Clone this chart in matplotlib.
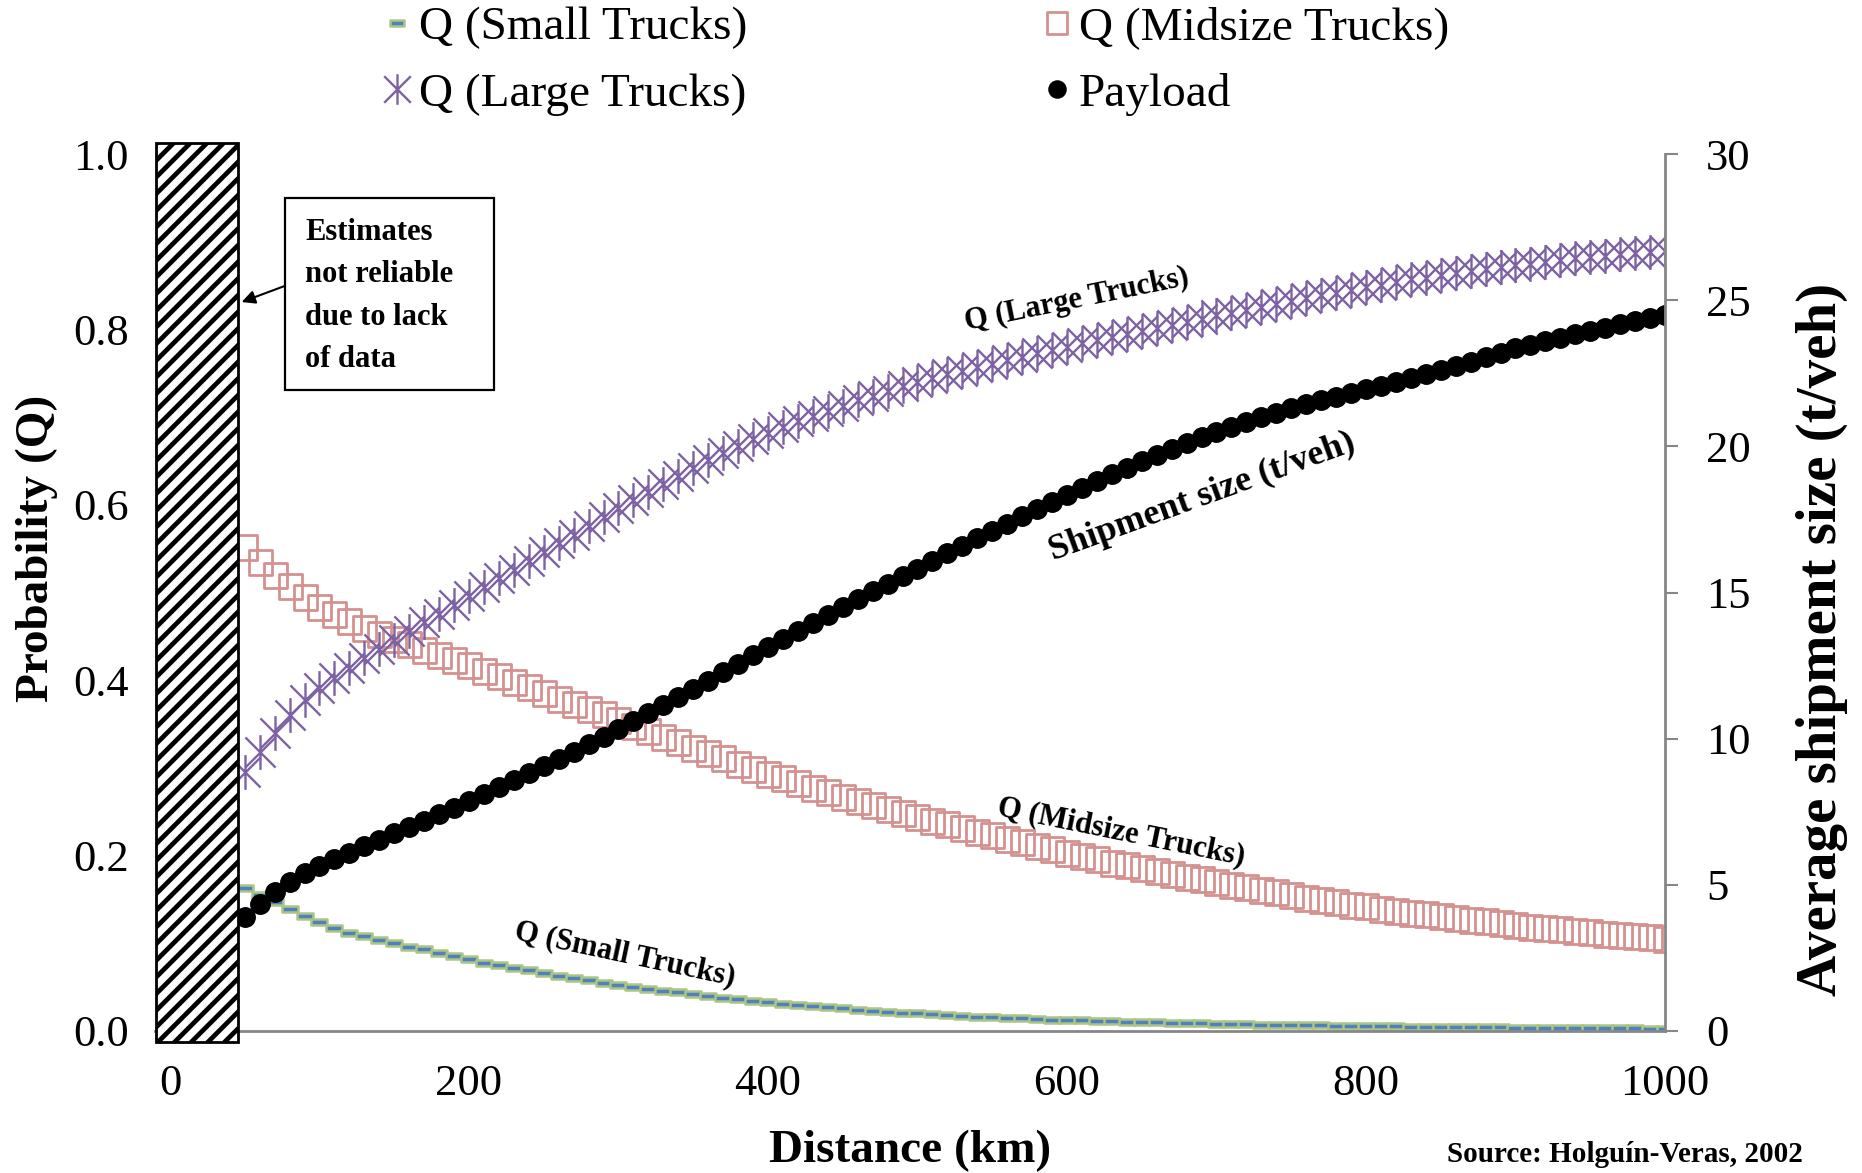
import matplotlib
matplotlib.use("Agg")
import matplotlib.pyplot as plt
from matplotlib.path import Path
from matplotlib.patches import Rectangle

# ---------------- data ----------------
distance_km = list(range(50, 1001, 10))

q_small = [
    0.163, 0.155, 0.147, 0.139, 0.131, 0.124, 0.118, 0.112, 0.108, 0.104,
    0.100, 0.096, 0.093, 0.089, 0.085, 0.082, 0.078, 0.075, 0.072, 0.069,
    0.066, 0.063, 0.060, 0.058, 0.055, 0.053, 0.050, 0.048, 0.046, 0.044,
    0.042, 0.040, 0.038, 0.036, 0.034, 0.033, 0.031, 0.030, 0.028, 0.027,
    0.026, 0.024, 0.023, 0.022, 0.021, 0.020, 0.019, 0.018, 0.017, 0.0165,
    0.016, 0.015, 0.0145, 0.014, 0.013, 0.0125, 0.012, 0.0115, 0.011, 0.0105,
    0.010, 0.0097, 0.0093, 0.009, 0.0086, 0.0083, 0.008, 0.0077, 0.0074, 0.0071,
    0.0068, 0.0065, 0.0063, 0.006, 0.0058, 0.0056, 0.0054, 0.0052, 0.005, 0.0048,
    0.0046, 0.0044, 0.0043, 0.0041, 0.004, 0.0038, 0.0037, 0.0036, 0.0034, 0.0033,
    0.0032, 0.0031, 0.003, 0.0029, 0.0028, 0.0027,
]

q_midsize = [
    0.552, 0.535, 0.520, 0.507, 0.495, 0.484, 0.475, 0.467, 0.460, 0.453,
    0.447, 0.441, 0.435, 0.429, 0.423, 0.417, 0.411, 0.405, 0.398, 0.392,
    0.385, 0.379, 0.373, 0.367, 0.361, 0.355, 0.348, 0.342, 0.335, 0.329,
    0.323, 0.317, 0.311, 0.305, 0.299, 0.293, 0.288, 0.283, 0.277, 0.272,
    0.267, 0.262, 0.258, 0.253, 0.249, 0.244, 0.240, 0.236, 0.231, 0.227,
    0.223, 0.219, 0.215, 0.211, 0.207, 0.203, 0.199, 0.196, 0.192, 0.189,
    0.186, 0.183, 0.179, 0.176, 0.173, 0.170, 0.167, 0.164, 0.161, 0.158,
    0.155, 0.152, 0.149, 0.147, 0.144, 0.142, 0.139, 0.137, 0.135, 0.133,
    0.131, 0.129, 0.127, 0.125, 0.123, 0.121, 0.119, 0.118, 0.116, 0.114,
    0.113, 0.111, 0.110, 0.108, 0.107, 0.105,
]

q_large = [
    0.295, 0.318, 0.340, 0.360, 0.377, 0.391, 0.403, 0.414, 0.425, 0.436,
    0.446, 0.456, 0.466, 0.476, 0.486, 0.496, 0.506, 0.516, 0.526, 0.536,
    0.546, 0.556, 0.566, 0.576, 0.586, 0.596, 0.606, 0.615, 0.624, 0.633,
    0.642, 0.651, 0.659, 0.667, 0.675, 0.682, 0.689, 0.695, 0.701, 0.707,
    0.713, 0.719, 0.724, 0.730, 0.735, 0.740, 0.745, 0.749, 0.753, 0.757,
    0.761, 0.765, 0.769, 0.773, 0.777, 0.780, 0.784, 0.788, 0.791, 0.795,
    0.798, 0.802, 0.805, 0.809, 0.812, 0.816, 0.819, 0.822, 0.826, 0.829,
    0.832, 0.836, 0.839, 0.842, 0.845, 0.848, 0.851, 0.854, 0.857, 0.859,
    0.862, 0.864, 0.867, 0.869, 0.871, 0.873, 0.875, 0.877, 0.879, 0.881,
    0.883, 0.884, 0.886, 0.887, 0.888, 0.889,
]

payload_t = [
    3.90, 4.35, 4.75, 5.10, 5.40, 5.65, 5.88, 6.10, 6.32, 6.54,
    6.76, 6.98, 7.20, 7.42, 7.64, 7.87, 8.10, 8.33, 8.57, 8.81,
    9.05, 9.30, 9.55, 9.81, 10.07, 10.33, 10.60, 10.87, 11.14, 11.42,
    11.70, 11.98, 12.27, 12.56, 12.85, 13.14, 13.42, 13.70, 13.97, 14.24,
    14.51, 14.78, 15.04, 15.30, 15.56, 15.82, 16.08, 16.34, 16.60, 16.86,
    17.11, 17.36, 17.61, 17.86, 18.10, 18.34, 18.58, 18.81, 19.04, 19.27,
    19.49, 19.71, 19.92, 20.13, 20.33, 20.50, 20.67, 20.83, 20.99, 21.15,
    21.30, 21.44, 21.57, 21.70, 21.83, 21.95, 22.08, 22.21, 22.34, 22.47,
    22.60, 22.75, 22.90, 23.05, 23.20, 23.35, 23.47, 23.59, 23.71, 23.83,
    23.95, 24.06, 24.17, 24.28, 24.39, 24.50,
]

x_ticks = [0, 200, 400, 600, 800, 1000]
left_ticks = [0.0, 0.2, 0.4, 0.6, 0.8, 1.0]
right_ticks = [0, 5, 10, 15, 20, 25, 30]
unreliable_km = (-9, 45.5)   # hatched "no data" zone

labels = {
    "small": "Q (Small Trucks)",
    "mid": "Q (Midsize Trucks)",
    "large": "Q (Large Trucks)",
    "pay": "Payload",
}

assert len(q_small) == len(q_midsize) == len(q_large) == len(payload_t) == len(distance_km)

# ---------------- figure ----------------
W, H, DPI = 1862, 1173, 100
plt.rcParams["font.family"] = ["Liberation Serif", "DejaVu Serif"]
plt.rcParams["hatch.linewidth"] = 3.4

fig = plt.figure(figsize=(W / DPI, H / DPI), dpi=DPI)


def fx(px):
    return px / W


def fy(py):
    return 1 - py / H


ax = fig.add_axes([fx(155), fy(1031), fx(1665) - fx(155), fy(154) - fy(1031)])
ax2 = ax.twinx()

GRAY = "#868686"
PURPLE = "#7d62a3"
RED = "#d4918f"
BLUE = "#4f81bd"
GREEN = "#abc684"

MV, LT, CL = Path.MOVETO, Path.LINETO, Path.CLOSEPOLY
star = Path([(-1, -1), (1, 1), (-1, 1), (1, -1), (0, -1.15), (0, 1.15)],
            [MV, LT, MV, LT, MV, LT])
dash = Path([(-1, -0.4), (1, -0.4), (1, 0.4), (-1, 0.4), (-1, -0.4)],
            [MV, LT, LT, LT, CL])
box_m = Path([(-0.92, -1), (0.92, -1), (0.92, 1), (-0.92, 1), (-0.92, -1)],
             [MV, LT, LT, LT, CL])

h_small, = ax.plot(distance_km, q_small, ls="none", marker=dash, ms=11,
                   mfc=BLUE, mec=GREEN, mew=1.8, label=labels["small"])
h_mid, = ax.plot(distance_km, q_midsize, ls="none", marker=box_m, ms=18,
                 mfc="none", mec=RED, mew=2.0, label=labels["mid"])
h_large, = ax.plot(distance_km, q_large, ls="none", marker=star, ms=25,
                   mec=PURPLE, mfc="none", mew=1.7, label=labels["large"])
h_pay, = ax2.plot(distance_km, payload_t, ls="none", marker="o", ms=14,
                  mfc="black", mec="black", label=labels["pay"])

# hatched zone
bar = Rectangle((unreliable_km[0], -0.012), unreliable_km[1] - unreliable_km[0], 1.025,
                transform=ax.transData, facecolor="white", edgecolor="black",
                hatch="//", lw=2, clip_on=False, zorder=10)
ax2.add_patch(bar)

ax.set_xlim(-10, 1000)
ax.set_ylim(0, 1)
ax2.set_ylim(0, 30)

ax.set_xticks(x_ticks)
ax.set_xticklabels([str(v) for v in x_ticks])
ax.set_yticks(left_ticks)
ax.set_yticklabels([f"{v:.1f}" for v in left_ticks])
ax2.set_yticks(right_ticks)
ax2.set_yticklabels([str(v) for v in right_ticks])

ax.tick_params(axis="y", length=0, labelsize=32, pad=19)
ax.tick_params(axis="x", length=0, labelsize=32, pad=24)
ax2.tick_params(axis="y", length=9.4, width=1.5, color=GRAY, labelsize=32, pad=20,
                direction="out")

for s in ("top", "left", "right"):
    ax.spines[s].set_visible(False)
ax.spines["bottom"].set_color(GRAY)
ax.spines["bottom"].set_linewidth(2)
for s in ("top", "left", "bottom"):
    ax2.spines[s].set_visible(False)
ax2.spines["right"].set_color(GRAY)
ax2.spines["right"].set_linewidth(2)

# axis titles
fig.text(fx(910), fy(1162), "Distance (km)", fontsize=34, fontweight="bold",
         ha="center", va="baseline")
fig.text(fx(37), fy(548), "Probability (Q)", fontsize=34, fontweight="bold",
         ha="center", va="center", rotation=90)
fig.text(fx(1822), fy(639), "Average shipment size (t/veh)", fontsize=41,
         fontweight="bold", ha="center", va="center", rotation=90)

# source
fig.text(fx(1447), fy(1168), "Source: Holguín-Veras, 2002", fontsize=21,
         fontweight="bold", ha="left", va="bottom")

# inline series labels
def inline(px, py, txt, rot, size):
    fig.text(fx(px), fy(py), txt, fontsize=size, fontweight="bold", ha="center",
             va="center", rotation=rot, rotation_mode="anchor")

inline(1077, 300, "Q (Large Trucks)", 11.5, 22)
inline(1202, 497, "Shipment size (t/veh)", 20, 26)
inline(1121, 832, "Q (Midsize Trucks)", -11.5, 22)
inline(625, 954, "Q (Small Trucks)", -12, 22)

# annotation box + arrow
note_box = Rectangle((fx(285), fy(390)), fx(494) - fx(285), fy(198) - fy(390),
                     transform=fig.transFigure, facecolor="white", edgecolor="black",
                     lw=1.6, zorder=5)
fig.add_artist(note_box)
fig.text(fx(305), fy(296), "Estimates\nnot reliable\ndue to lack\nof data", fontsize=22,
         fontweight="bold", ha="left", va="center", linespacing=1.6, zorder=6)
ax2.annotate("", xy=(fx(239), fy(303)), xycoords="figure fraction",
             xytext=(fx(290), fy(284)), textcoords="figure fraction",
             arrowprops=dict(arrowstyle="-|>", color="black", lw=1.5, mutation_scale=20),
             annotation_clip=False, zorder=12)

# legend
fig.legend([h_small, h_large, h_mid, h_pay],
           [labels["small"], labels["large"], labels["mid"], labels["pay"]],
           ncol=2, loc="upper left", bbox_to_anchor=(fx(385), fy(6)),
           frameon=False, fontsize=34, handlelength=0.5, handletextpad=0.22,
           columnspacing=6.3, labelspacing=0.5, borderpad=0, borderaxespad=0,
           markerscale=0.88)

fig.savefig("out.png", dpi=DPI)
